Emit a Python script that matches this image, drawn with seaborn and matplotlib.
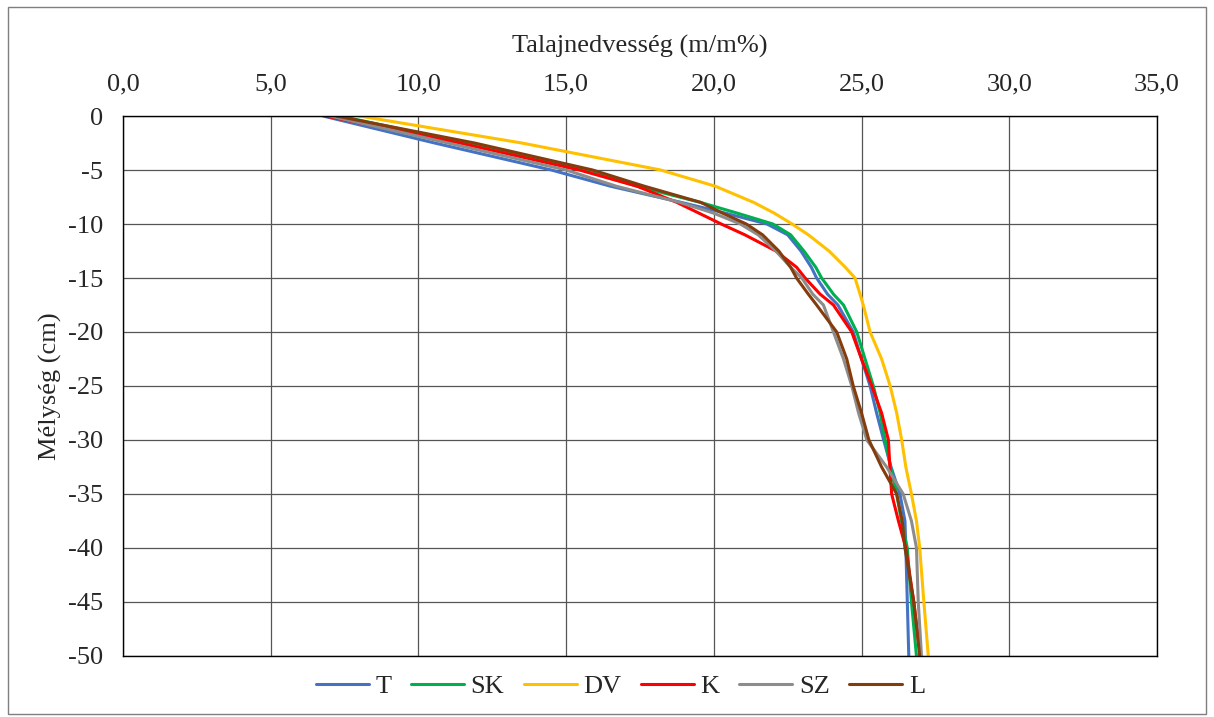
import pandas as pd
import matplotlib.pyplot as plt
import seaborn as sns
from matplotlib.patches import Rectangle
from matplotlib.ticker import FuncFormatter

# Depth of each reading (cm)
depth = [0, -2.5, -5, -6.5, -8, -9, -10, -11, -12.5, -14, -15, -16.5, -17.5,
         -20, -22.5, -25, -27.5, -30, -32.5, -35, -37.5, -40, -45, -50]

# Soil moisture (m/m%) per treatment
T = [6.77, 10.55, 14.5, 16.5, 18.9, 20.4, 21.8, 22.5, 22.95, 23.3, 23.48, 23.85, 24.2,
     24.72, 25.0, 25.29, 25.51, 25.75, 26.0, 26.3, 26.47, 26.5, 26.55, 26.6]
SK = [7.35, 11.6, 15.6, 17.4, 19.55, 20.8, 22.0, 22.6, 23.05, 23.45, 23.65, 24.05, 24.39,
      24.84, 25.12, 25.4, 25.63, 25.8, 25.98, 26.19, 26.35, 26.55, 26.69, 26.86]
DV = [8.0, 13.5, 18.2, 20.05, 21.35, 22.05, 22.65, 23.2, 23.9, 24.45, 24.78, 24.95, 25.06,
      25.29, 25.68, 25.97, 26.19, 26.36, 26.5, 26.69, 26.86, 26.97, 27.11, 27.26]
K = [6.85, 11.4, 15.45, 17.4, 18.75, 19.5, 20.25, 21.05, 22.1, 22.8, 23.09, 23.6, 24.05,
     24.67, 25.0, 25.35, 25.68, 25.91, 25.96, 26.02, 26.25, 26.5, 26.77, 26.99]
SZ = [7.0, 11.0, 15.0, 16.7, 18.85, 20.0, 20.9, 21.5, 22.1, 22.6, 22.98, 23.35, 23.71,
      24.05, 24.39, 24.67, 24.9, 25.18, 25.85, 26.41, 26.69, 26.86, 26.92, 27.03]
L = [7.22, 11.9, 15.9, 17.65, 19.56, 20.3, 21.1, 21.65, 22.2, 22.6, 22.8, 23.2, 23.48,
     24.16, 24.5, 24.72, 25.0, 25.25, 25.68, 26.19, 26.38, 26.47, 26.77, 26.97]

series = {"T": T, "SK": SK, "DV": DV, "K": K, "SZ": SZ, "L": L}
colors = {"T": "#4472C4", "SK": "#00B050", "DV": "#FFC000",
          "K": "#FF0000", "SZ": "#8C8C8C", "L": "#843C0C"}

rows = []
for name, vals in series.items():
    for d, v in zip(depth, vals):
        rows.append({"Sorozat": name, "Mélység": d, "Nedvesség": v})
df = pd.DataFrame(rows)

sns.set_style("white")
plt.rcParams["font.family"] = ["Liberation Serif", "DejaVu Serif"]
plt.rcParams["axes.unicode_minus"] = False

fig = plt.figure(figsize=(12.14, 7.17), dpi=100)
ax = fig.add_axes([0.1013, 0.0851, 0.8517, 0.7531])

sns.lineplot(data=df, x="Nedvesség", y="Mélység", hue="Sorozat", palette=colors,
             sort=False, estimator=None, linewidth=2.2, ax=ax, legend=False)

ax.set_xlim(0, 35)
ax.set_ylim(-50, 0)
ax.set_xticks(range(0, 36, 5))
ax.set_yticks(range(-50, 1, 5))
ax.xaxis.set_major_formatter(FuncFormatter(lambda v, p: f"{v:.1f}".replace(".", ",")))
ax.xaxis.tick_top()
ax.xaxis.set_label_position("top")
ax.tick_params(length=0, labelsize=19, pad=14.5)
ax.grid(True, color="#555555", linewidth=0.9)
for s in ax.spines.values():
    s.set_color("black")
    s.set_linewidth(1)

ax.set_xlabel("Talajnedvesség (m/m%)", fontsize=19, labelpad=15)
ax.set_ylabel("Mélység (cm)", fontsize=19, labelpad=4)

handles = [plt.Line2D([0], [0], color=colors[n], lw=2.2) for n in series]
fig.legend(handles, list(series.keys()), loc="center", bbox_to_anchor=(0.511, 0.043),
           ncol=6, frameon=False, fontsize=19, handlelength=2.0, handletextpad=0.25,
           columnspacing=0.75)

fig.patches.append(Rectangle((8 / 1214, 3 / 717), 1198 / 1214, 707 / 717,
                             transform=fig.transFigure, fill=False,
                             edgecolor="#7f7f7f", linewidth=1))

fig.savefig("out.png", dpi=100)
